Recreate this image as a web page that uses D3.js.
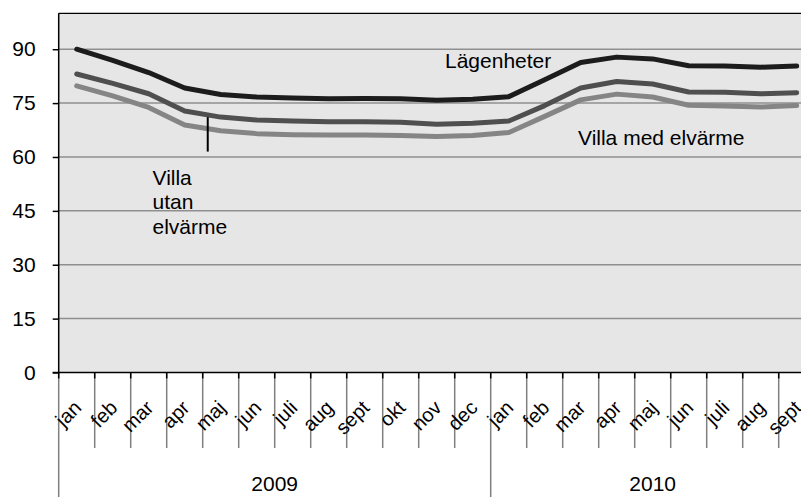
<!DOCTYPE html>
<html>
<head>
<meta charset="utf-8">
<script src="https://cdn.jsdelivr.net/npm/d3@7"></script>
<style>
  html, body { margin: 0; padding: 0; background: #ffffff; }
  svg { display: block; font-family: "Liberation Sans", Arial, sans-serif; }
</style>
</head>
<body>
<svg id="chart" width="801" height="497"></svg>
<script>
// ---- data ----
const months = ["jan","feb","mar","apr","maj","jun","juli","aug","sept","okt","nov","dec",
                "jan","feb","mar","apr","maj","jun","juli","aug","sept"];
const years = ["2009", "2010"];
const yearSpans = [12, 9];
const lagenheter = [90.0, 86.9, 83.5, 79.2, 77.4, 76.7, 76.4, 76.2, 76.3, 76.2, 75.8, 76.1,
                    76.8, 81.5, 86.3, 87.8, 87.3, 85.4, 85.3, 85.0, 85.3];
const villaUtan  = [83.1, 80.5, 77.6, 72.8, 71.1, 70.3, 70.0, 69.8, 69.8, 69.7, 69.1, 69.4,
                    70.0, 74.3, 79.2, 81.0, 80.3, 78.1, 78.0, 77.6, 77.9];
const villaMed   = [79.8, 77.0, 73.8, 68.9, 67.3, 66.5, 66.2, 66.1, 66.1, 66.0, 65.7, 66.0,
                    66.8, 71.3, 75.9, 77.5, 76.7, 74.4, 74.2, 73.9, 74.3];
const yTicks = [0, 15, 30, 45, 60, 75, 90];
const seriesList = [
  { name: "Villa med elvärme", values: villaMed, color: "#858585" },
  { name: "Villa utan elvärme", values: villaUtan, color: "#4f4f4f" },
  { name: "Lägenheter", values: lagenheter, color: "#1c1c1c" }
];

// ---- layout ----
const svg = d3.select("#chart");
const W = 801, H = 497;
const pLeft = 58.7, pTop = 13.3, pBottom = 372.5;
const bw = 36;
const pRight = pLeft + bw * months.length;
const FS = 21;

const x = d3.scaleBand().domain(d3.range(months.length)).range([pLeft, pRight]).paddingInner(0).paddingOuter(0);
const y = d3.scaleLinear().domain([0, 100]).range([pBottom, pTop]);
const cx = i => x(i) + x.bandwidth() / 2;

// plot background
svg.append("rect").attr("x", pLeft).attr("y", pTop).attr("width", pRight - pLeft).attr("height", pBottom - pTop)
  .attr("fill", "#e6e6e6");

// gridlines
svg.append("g").selectAll("line").data(yTicks.filter(d => d > 0)).join("line")
  .attr("x1", pLeft).attr("x2", pRight).attr("y1", d => y(d)).attr("y2", d => y(d))
  .attr("stroke", "#8f8f8f").attr("stroke-width", 1.5);

// top border
svg.append("line").attr("x1", pLeft).attr("x2", pRight).attr("y1", pTop).attr("y2", pTop)
  .attr("stroke", "#000").attr("stroke-width", 1.3);

// y axis
const yAxis = d3.axisLeft(y).tickValues(yTicks).tickSize(6).tickPadding(17).tickFormat(d3.format("d"));
const gy = svg.append("g").attr("transform", `translate(${pLeft},0)`).call(yAxis);
gy.select(".domain").attr("stroke", "#000").attr("stroke-width", 1.5).attr("d", `M0,${pTop}V${pBottom}`);
gy.selectAll(".tick line").attr("stroke", "#000").attr("stroke-width", 1.5);
gy.selectAll(".tick text").attr("font-size", FS).attr("fill", "#000")
  .attr("font-family", "Liberation Sans, Arial, sans-serif");

// category separators below axis
const sepIdx = d3.range(months.length + 1);
const yearStarts = [0, 12];
svg.append("g").selectAll("line").data(sepIdx).join("line")
  .attr("x1", i => x(0) + i * x.step()).attr("x2", i => x(0) + i * x.step())
  .attr("y1", pBottom).attr("y2", i => yearStarts.includes(i) ? H : 448)
  .attr("stroke", "#808080").attr("stroke-width", 1.5);

// x axis (black ticks)
const xAxis = d3.axisBottom(x).tickValues([]).tickSize(0);
const gx = svg.append("g").attr("transform", `translate(0,${pBottom})`).call(xAxis);
gx.select(".domain").attr("stroke", "#000").attr("stroke-width", 1.5).attr("d", `M${pLeft - 6},0H${pRight}`);
svg.append("g").selectAll("line").data(sepIdx).join("line")
  .attr("x1", i => x(0) + i * x.step()).attr("x2", i => x(0) + i * x.step())
  .attr("y1", pBottom).attr("y2", pBottom + 6)
  .attr("stroke", "#000").attr("stroke-width", 1.5);

// month labels
svg.append("g").selectAll("text").data(months).join("text")
  .attr("transform", (d, i) => `translate(${cx(i) + 6},409) rotate(-45)`)
  .attr("text-anchor", "end").attr("font-size", 20).attr("fill", "#000")
  .text(d => d);

// year labels
let acc = 0;
years.forEach((yr, k) => {
  const a = x(0) + acc * x.step();
  const b = x(0) + (acc + yearSpans[k]) * x.step();
  svg.append("text").attr("x", (a + b) / 2).attr("y", 491)
    .attr("text-anchor", "middle").attr("font-size", FS).attr("fill", "#000").text(yr);
  acc += yearSpans[k];
});

// lines
const line = d3.line().x((d, i) => cx(i)).y(d => y(d));
svg.append("g").selectAll("path").data(seriesList).join("path")
  .attr("d", s => line(s.values)).attr("fill", "none")
  .attr("stroke", s => s.color).attr("stroke-width", 5)
  .attr("stroke-linejoin", "round").attr("stroke-linecap", "round");

// annotations
svg.append("text").attr("x", 445).attr("y", 67.5).attr("font-size", FS).text("Lägenheter");
svg.append("text").attr("x", 578).attr("y", 145).attr("font-size", FS).text("Villa med elvärme");
const vt = svg.append("text").attr("x", 152.5).attr("y", 185).attr("font-size", FS);
["Villa", "utan", "elvärme"].forEach((t, k) => vt.append("tspan").attr("x", 152.5).attr("dy", k === 0 ? 0 : 24.3).text(t));
// leader line
svg.append("line").attr("x1", x(4) + 0.14 * bw).attr("x2", x(4) + 0.14 * bw)
  .attr("y1", y(71.1)).attr("y2", y(61.5)).attr("stroke", "#000").attr("stroke-width", 2);
</script>
</body>
</html>
